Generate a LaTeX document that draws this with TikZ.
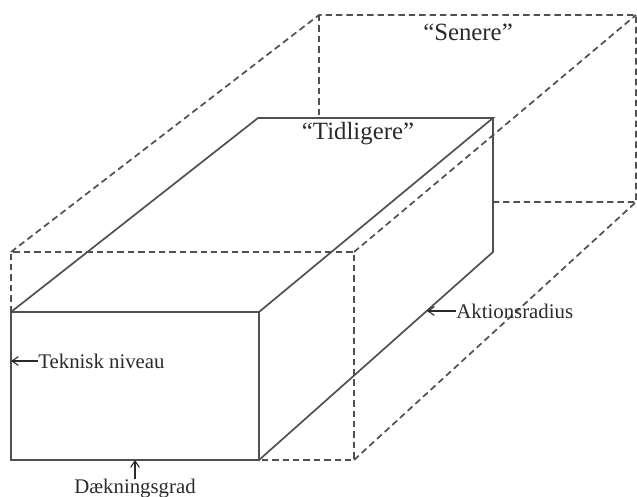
\documentclass[tikz,border=0pt]{standalone}
\usepackage{fontspec}
\setmainfont{Liberation Serif}
\usetikzlibrary{arrows.meta}
\definecolor{lin}{HTML}{505050}
\definecolor{txt}{HTML}{2A2A2A}
\begin{document}
\begin{tikzpicture}[x=0.5pt,y=-0.5pt,
  solidedge/.style={draw=lin,line width=0.85pt,line join=miter},
  dashedge/.style={draw=lin,line width=0.85pt,dash pattern=on 3.2pt off 2pt},
  biglabel/.style={text=txt,font=\fontsize{12.4}{14}\selectfont,inner sep=0pt},
  smalllabel/.style={text=txt,font=\fontsize{10.4}{12}\selectfont,inner sep=0pt},
  pointer/.style={draw=txt,line width=0.55pt,-{Straight Barb[length=3.2pt,width=4.4pt]}}]
\useasboundingbox (0,0) rectangle (637,497);
% solid box
\coordinate (A) at (11,312);
\coordinate (B) at (259,312);
\coordinate (C) at (259,460);
\coordinate (D) at (11,460);
\coordinate (E) at (258,118);
\coordinate (F) at (493,118);
\coordinate (G) at (493,252);
% dashed box
\coordinate (P) at (11,252);
\coordinate (Q) at (354,252);
\coordinate (R) at (354,460);
\coordinate (S) at (319,15);
\coordinate (T) at (636,15);
\coordinate (U) at (636,202);
\coordinate (S1) at (319,118);
\coordinate (U1) at (493,202);
% dashed edges
\path[dashedge] (A) -- (P) -- (Q) -- (R) -- (C);
\path[dashedge] (P) -- (S) -- (T) -- (U) -- (U1);
\path[dashedge] (S) -- (S1);
\path[dashedge] (Q) -- (T);
\path[dashedge] (R) -- (U);
% solid edges
\path[solidedge] (A) -- (B) -- (C) -- (D) -- cycle;
\path[solidedge] (A) -- (E) -- (F) -- (B);
\path[solidedge] (F) -- (G) -- (C);
% labels
\node[biglabel] (sen) at (468,32) {``Senere''};
\node[biglabel] (tid) at (358,134) {``Tidligere''};
\coordinate (ak) at (427,311);
\node[smalllabel,anchor=west] (akt) at (456,311) {Aktionsradius};
\draw[pointer] (akt.west) -- (ak);
\coordinate (tk) at (11,361);
\node[smalllabel,anchor=west] (tek) at (38,361) {Teknisk niveau};
\draw[pointer] (tek.west) -- (tk);
\coordinate (dk) at (135,460);
\node[smalllabel,anchor=north] (dae) at (135,479) {Dækningsgrad};
\draw[pointer] (dae.north) -- (dk);
\end{tikzpicture}
\end{document}
